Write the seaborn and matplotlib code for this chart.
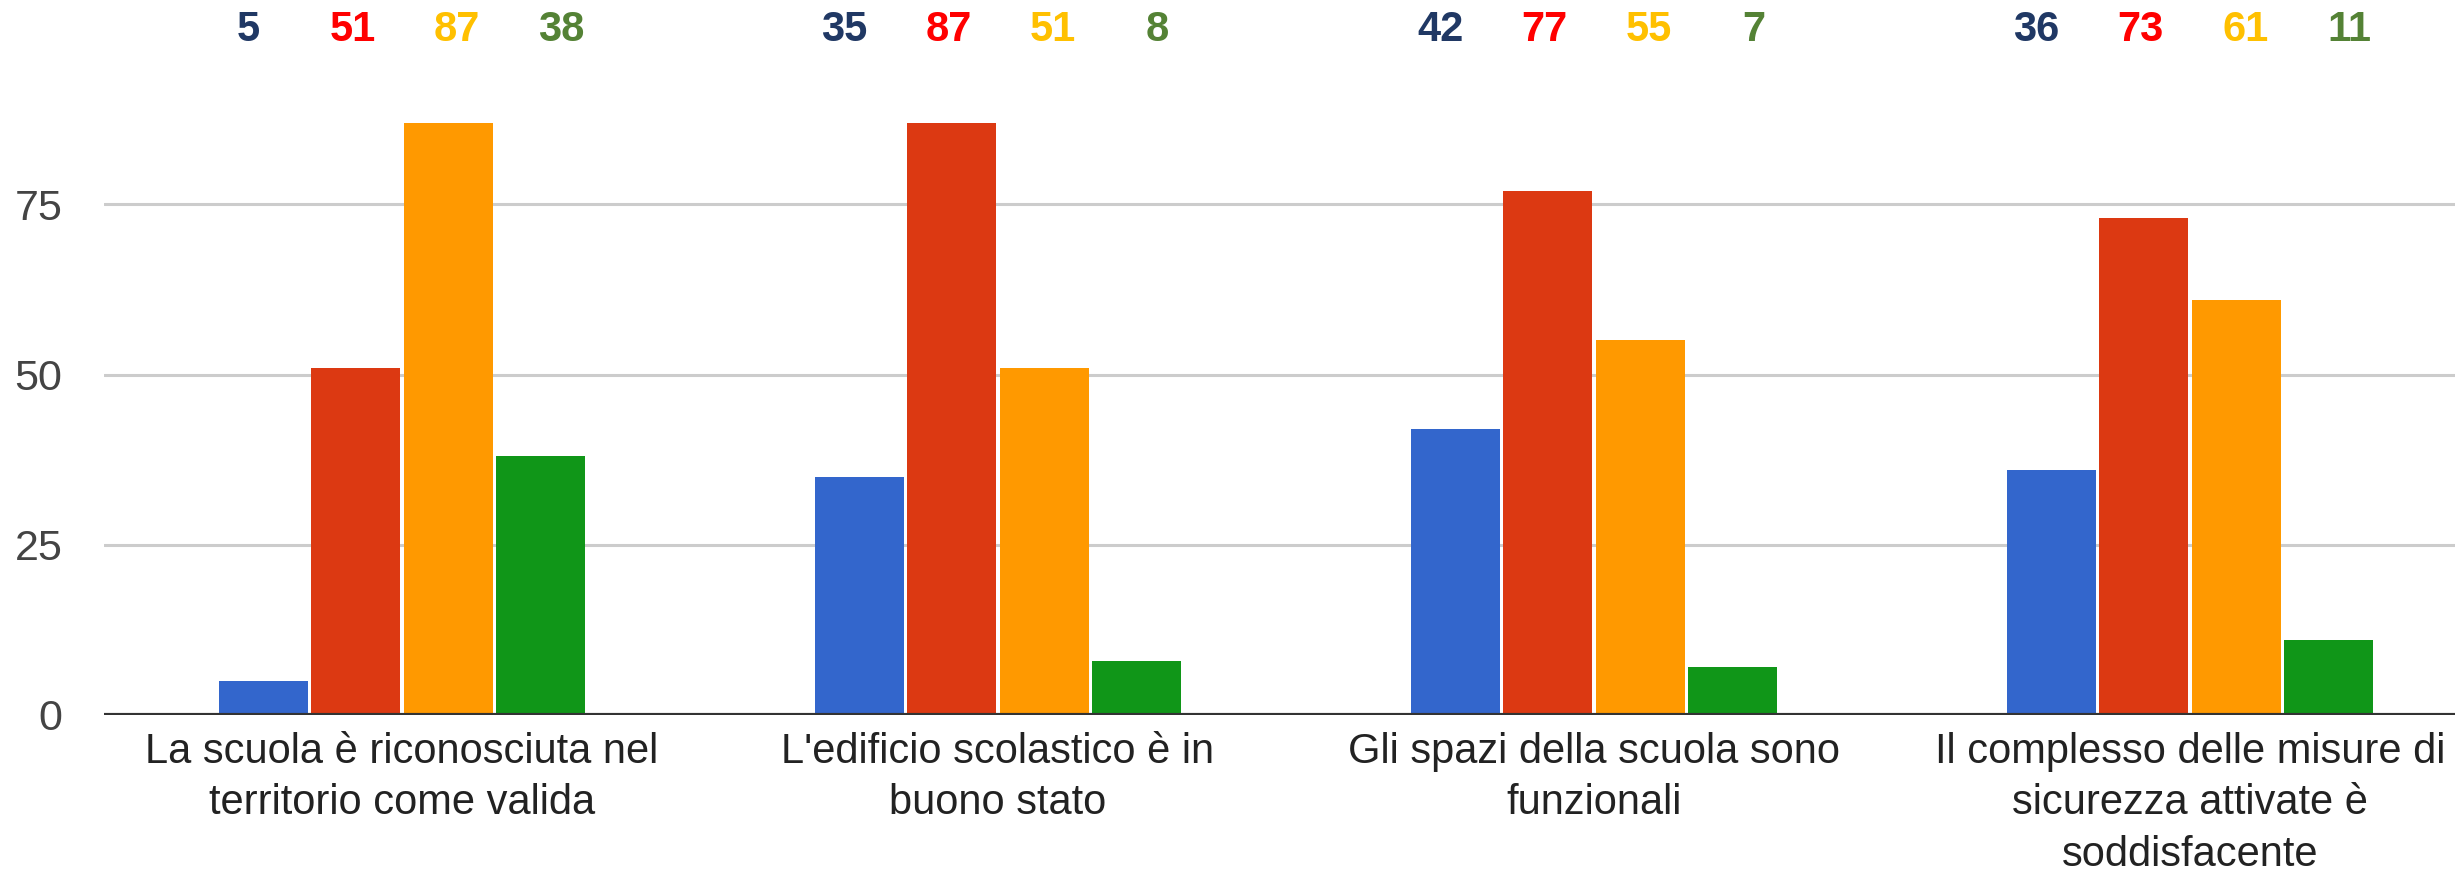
import numpy as np
import pandas as pd
import matplotlib
matplotlib.use("Agg")
import matplotlib.pyplot as plt
import matplotlib.transforms as mtransforms
import seaborn as sns

# Data
items = [
    "La scuola è riconosciuta nel\nterritorio come valida",
    "L'edificio scolastico è in\nbuono stato",
    "Gli spazi della scuola sono\nfunzionali",
    "Il complesso delle misure di\nsicurezza attivate è\nsoddisfacente",
]
series = ["Per niente", "Poco", "Abbastanza", "Molto"]
per_niente = [5, 35, 42, 36]
poco = [51, 87, 77, 73]
abbastanza = [87, 51, 55, 61]
molto = [38, 8, 7, 11]
y_ticks = [0, 25, 50, 75]

BAR_COLORS = ["#3366CC", "#DC3912", "#FF9900", "#109618"]
LABEL_COLORS = ["#203864", "#FF0000", "#FFC000", "#548235"]

sns.set_style("white")
plt.rcParams["font.family"] = ["Liberation Sans", "DejaVu Sans"]

values = [per_niente, poco, abbastanza, molto]
df = pd.DataFrame({
    "item": [it for s in series for it in items],
    "risposta": [s for s in series for _ in items],
    "valore": [v for vals in values for v in vals],
})

fig = plt.figure(figsize=(24.55, 8.75), dpi=100)
ax = fig.add_axes([104 / 2455, 160 / 875, 2384 / 2455, 681 / 875])

sns.barplot(data=df, x="item", y="valore", hue="risposta", palette=BAR_COLORS,
            width=0.62, gap=0.04, saturation=1, legend=False, ax=ax,
            edgecolor="white", linewidth=0)

ax.set_ylim(0, 100)
ax.set_xlim(-0.5, 3.5)
ax.set_yticks(y_ticks)
ax.set_yticklabels([str(t) for t in y_ticks], fontsize=31, color="#444444")
ax.tick_params(axis="y", length=0, pad=30)
ax.tick_params(axis="x", length=0, pad=12, labelsize=30, labelcolor="#222222")
for lab in ax.get_xticklabels():
    lab.set_linespacing(1.38)
ax.set_xlabel("")
ax.set_ylabel("")
for sp in ax.spines.values():
    sp.set_visible(False)
ax.yaxis.grid(True, color="#CCCCCC", linewidth=2.2)
ax.set_axisbelow(True)
ax.axhline(0, color="#333333", linewidth=3, zorder=5)

# Value labels above the chart
trans = mtransforms.blended_transform_factory(ax.transData, ax.transAxes)
for j, vals in enumerate(values):
    for i, v in enumerate(vals):
        ax.text(i + (j - 1.5) * 0.175 + 0.005, 1.006, str(v), transform=trans,
                ha="center", va="center", fontsize=30, fontweight="bold",
                color=LABEL_COLORS[j], clip_on=False)

fig.savefig("out.png", dpi=100)
plt.close(fig)
